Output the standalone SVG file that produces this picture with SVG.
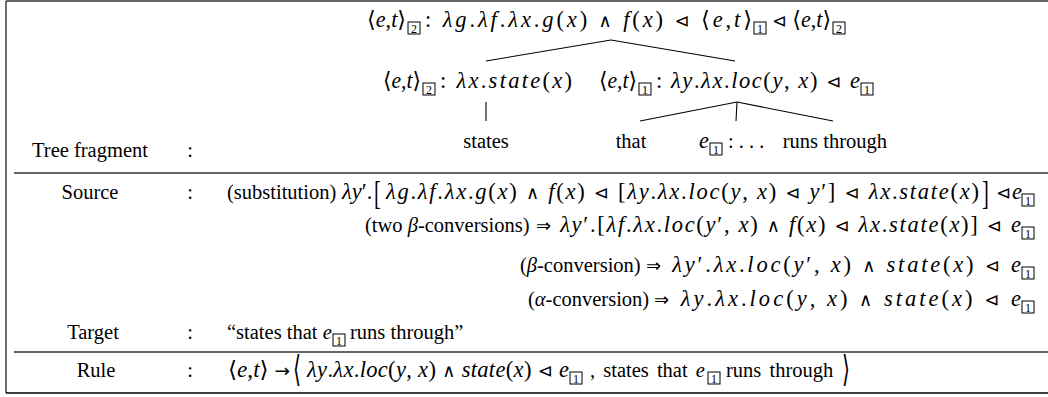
<svg xmlns="http://www.w3.org/2000/svg" width="1048" height="397" viewBox="0 0 1048 397">
<style>
.t{font-family:"Liberation Serif","DejaVu Serif",serif;font-size:20.5px;fill:#000}
.m{font-family:"Liberation Serif","DejaVu Serif",serif;font-size:22.5px;fill:#000}
.i{font-style:italic}
.o{font-family:"DejaVu Sans",sans-serif;font-size:18px;font-style:normal}
.d{font-family:"Liberation Serif","DejaVu Serif",serif;font-size:12px;fill:#000;text-anchor:middle}
.bx{fill:none;stroke:#000;stroke-width:1}
.c{text-anchor:middle}
.e{text-anchor:end}
.ln{stroke:#000;stroke-width:1.1;fill:none}
.rule{stroke:#333;stroke-width:1.4}
</style>
<defs>
<g id="b1"><rect class="bx" x="0" y="-5" width="12" height="12"/><text class="d" x="6" y="5.5">1</text></g>
<g id="b2"><rect class="bx" x="0" y="-5" width="12" height="12"/><text class="d" x="6" y="5.5">2</text></g>
</defs>
<rect width="1048" height="397" fill="#fff"/>
<g id="frame">
<line class="rule" x1="6" y1="1" x2="1048" y2="1"/>
<line class="rule" x1="6" y1="1" x2="6" y2="393"/>
<line class="rule" x1="6" y1="393" x2="1048" y2="393" style="stroke:#000"/>
<line class="rule" x1="14" y1="173" x2="1048" y2="173"/>
<line class="rule" x1="14" y1="352" x2="1048" y2="352"/>
</g>
<g id="connectors">
<line class="ln" x1="611" y1="40" x2="486" y2="61"/>
<line class="ln" x1="611" y1="40" x2="735" y2="61"/>
<line class="ln" x1="486" y1="102" x2="486" y2="121"/>
<line class="ln" x1="737" y1="102" x2="640" y2="121"/>
<line class="ln" x1="737" y1="102" x2="736" y2="121"/>
<line class="ln" x1="737" y1="102" x2="833" y2="121"/>
</g>
<g id="root">
<text class="m" x="367" y="27" textLength="39" lengthAdjust="spacingAndGlyphs">⟨<tspan class="i">e</tspan>,<tspan class="i">t</tspan>⟩</text>
<use href="#b2" x="408" y="27"/>
<text class="m" x="425" y="27" textLength="327">: <tspan class="i">λg</tspan>.<tspan class="i">λf</tspan>.<tspan class="i">λx</tspan>.<tspan class="i">g</tspan>(<tspan class="i">x</tspan>) <tspan class="o">∧</tspan> <tspan class="i">f</tspan>(<tspan class="i">x</tspan>) <tspan class="o">⊲</tspan> ⟨<tspan class="i">e</tspan>,<tspan class="i">t</tspan>⟩</text>
<use href="#b1" x="754" y="27"/>
<text class="m" x="772" y="27" textLength="59" lengthAdjust="spacingAndGlyphs"><tspan class="o">⊲</tspan> ⟨<tspan class="i">e</tspan>,<tspan class="i">t</tspan>⟩</text>
<use href="#b2" x="833" y="27"/>
</g>
<g id="node-state">
<text class="m" x="383" y="88" textLength="38" lengthAdjust="spacingAndGlyphs">⟨<tspan class="i">e</tspan>,<tspan class="i">t</tspan>⟩</text>
<use href="#b2" x="423" y="88"/>
<text class="m" x="440" y="88" textLength="132">: <tspan class="i">λx</tspan>.<tspan class="i">state</tspan>(<tspan class="i">x</tspan>)</text>
</g>
<g id="node-loc">
<text class="m" x="599" y="88" textLength="38" lengthAdjust="spacingAndGlyphs">⟨<tspan class="i">e</tspan>,<tspan class="i">t</tspan>⟩</text>
<use href="#b1" x="639" y="88"/>
<text class="m" x="656" y="88" textLength="204">: <tspan class="i">λy</tspan>.<tspan class="i">λx</tspan>.<tspan class="i">loc</tspan>(<tspan class="i">y</tspan>, <tspan class="i">x</tspan>) <tspan class="o">⊲</tspan> <tspan class="i">e</tspan></text>
<use href="#b1" x="861" y="88"/>
</g>
<g id="leaf-states"><text class="t c" x="486" y="148">states</text></g>
<g id="leaf-that"><text class="t c" x="631" y="148">that</text></g>
<g id="leaf-runs">
<text class="m i" x="699" y="148">e</text>
<use href="#b1" x="710" y="148"/>
<text class="t" x="728" y="148">: . . .</text>
<text class="t e" x="887" y="148">runs through</text>
</g>
<g id="labels">
<text class="t c" x="90" y="157">Tree fragment</text>
<text class="t c" x="190" y="157">:</text>
<text class="t c" x="90" y="199">Source</text>
<text class="t c" x="190" y="199">:</text>
<text class="t c" x="93" y="339">Target</text>
<text class="t c" x="190" y="339">:</text>
<text class="t c" x="96" y="377">Rule</text>
<text class="t c" x="190" y="377">:</text>
</g>
<g id="source">
<text class="t" x="227" y="199">(substitution)</text>
<text class="m" x="342" y="199"><tspan class="i">λy</tspan>′.</text>
<text class="t" transform="translate(374,204) scale(1,1.65)">[</text>
<text class="m" x="386" y="199" textLength="593"><tspan class="i">λg</tspan>.<tspan class="i">λf</tspan>.<tspan class="i">λx</tspan>.<tspan class="i">g</tspan>(<tspan class="i">x</tspan>) <tspan class="o">∧</tspan> <tspan class="i">f</tspan>(<tspan class="i">x</tspan>) <tspan class="o">⊲</tspan> [<tspan class="i">λy</tspan>.<tspan class="i">λx</tspan>.<tspan class="i">loc</tspan>(<tspan class="i">y</tspan>, <tspan class="i">x</tspan>) <tspan class="o">⊲</tspan> <tspan class="i">y</tspan>′] <tspan class="o">⊲</tspan> <tspan class="i">λx</tspan>.<tspan class="i">state</tspan>(<tspan class="i">x</tspan>)</text>
<text class="t" transform="translate(982,204) scale(1,1.65)">]</text>
<text class="m o" x="996" y="199">⊲</text>
<text class="m i" x="1012" y="199">e</text>
<use href="#b1" x="1022" y="199"/>
</g>
<g id="step2">
<text class="t" x="365" y="232">(two <tspan class="i">β</tspan>-conversions)</text>
<text class="m" x="536" y="232" textLength="485"><tspan class="o">⇒</tspan> <tspan class="i">λy</tspan>′.[<tspan class="i">λf</tspan>.<tspan class="i">λx</tspan>.<tspan class="i">loc</tspan>(<tspan class="i">y</tspan>′, <tspan class="i">x</tspan>) <tspan class="o">∧</tspan> <tspan class="i">f</tspan>(<tspan class="i">x</tspan>) <tspan class="o">⊲</tspan> <tspan class="i">λx</tspan>.<tspan class="i">state</tspan>(<tspan class="i">x</tspan>)] <tspan class="o">⊲</tspan> <tspan class="i">e</tspan></text>
<use href="#b1" x="1022" y="232"/>
</g>
<g id="step3">
<text class="t" x="520" y="272">(<tspan class="i">β</tspan>-conversion)</text>
<text class="m" x="646" y="272" textLength="375"><tspan class="o">⇒</tspan> <tspan class="i">λy</tspan>′.<tspan class="i">λx</tspan>.<tspan class="i">loc</tspan>(<tspan class="i">y</tspan>′, <tspan class="i">x</tspan>) <tspan class="o">∧</tspan> <tspan class="i">state</tspan>(<tspan class="i">x</tspan>) <tspan class="o">⊲</tspan> <tspan class="i">e</tspan></text>
<use href="#b1" x="1022" y="272"/>
</g>
<g id="step4">
<text class="t" x="528" y="306">(<tspan class="i">α</tspan>-conversion)</text>
<text class="m" x="654" y="306" textLength="367"><tspan class="o">⇒</tspan> <tspan class="i">λy</tspan>.<tspan class="i">λx</tspan>.<tspan class="i">loc</tspan>(<tspan class="i">y</tspan>, <tspan class="i">x</tspan>) <tspan class="o">∧</tspan> <tspan class="i">state</tspan>(<tspan class="i">x</tspan>) <tspan class="o">⊲</tspan> <tspan class="i">e</tspan></text>
<use href="#b1" x="1022" y="306"/>
</g>
<g id="target">
<text class="t" x="227" y="339">“states that <tspan class="i">e</tspan></text>
<use href="#b1" x="333" y="339"/>
<text class="t" x="350" y="339">runs through”</text>
</g>
<g id="rule">
<text class="m" x="228" y="377" textLength="62" lengthAdjust="spacingAndGlyphs">⟨<tspan class="i">e</tspan>,<tspan class="i">t</tspan>⟩ <tspan class="o">→</tspan></text>
<text class="t" transform="translate(293,381) scale(1,1.75)">⟨</text>
<text class="m" x="307" y="377" textLength="262"><tspan class="i">λy</tspan>.<tspan class="i">λx</tspan>.<tspan class="i">loc</tspan>(<tspan class="i">y</tspan>, <tspan class="i">x</tspan>) <tspan class="o">∧</tspan> <tspan class="i">state</tspan>(<tspan class="i">x</tspan>) <tspan class="o">⊲</tspan> <tspan class="i">e</tspan></text>
<use href="#b1" x="570" y="377"/>
<text class="t" x="590" y="377" style="word-spacing:3px">, states that <tspan class="i">e</tspan></text>
<use href="#b1" x="708" y="377"/>
<text class="t" x="726" y="377" style="word-spacing:3px">runs through</text>
<text class="t" transform="translate(842,381) scale(1,1.75)">⟩</text>
</g>
</svg>
